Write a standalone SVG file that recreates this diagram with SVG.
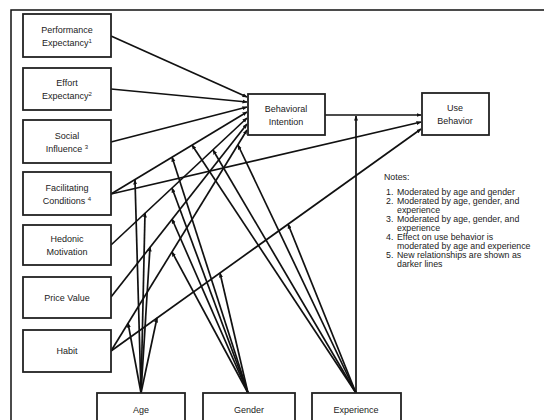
<svg xmlns="http://www.w3.org/2000/svg" width="544" height="420" viewBox="0 0 544 420">
<defs>
<marker id="ah" viewBox="0 0 10 10" refX="9" refY="5" markerWidth="5" markerHeight="5" orient="auto" markerUnits="userSpaceOnUse">
<path d="M0,1 L10,5 L0,9 z" fill="#111"/>
</marker>
<style>
.box{fill:#fff;stroke:#222;stroke-width:1.8}
.t{font-family:"Liberation Sans",Arial,sans-serif;font-size:9px;fill:#222;text-anchor:middle}
.n{font-family:"Liberation Sans",Arial,sans-serif;font-size:8.8px;fill:#222}
.c line{stroke:#111;stroke-width:1.7;marker-end:url(#ah)}
</style>
</defs>
<rect width="544" height="420" fill="#fff"/>
<rect x="11" y="10" width="560" height="440" fill="none" stroke="#111" stroke-width="1.5"/>

<g id="connectors" class="c">
<line x1="111" y1="36" x2="247" y2="97"/>
<line x1="111" y1="89" x2="247" y2="102"/>
<line x1="111" y1="142" x2="247" y2="107"/>
<line x1="111" y1="194" x2="247" y2="112"/>
<line x1="111" y1="245" x2="247" y2="118"/>
<line x1="111" y1="297" x2="247" y2="124"/>
<line x1="111" y1="351" x2="247" y2="130"/>
<line x1="325" y1="115" x2="421" y2="115"/>
<line x1="111" y1="194" x2="421" y2="122"/>
<line x1="111" y1="351" x2="421" y2="129"/>
<line x1="141" y1="393" x2="135" y2="180"/>
<line x1="141" y1="393" x2="145" y2="213"/>
<line x1="141" y1="393" x2="150" y2="247"/>
<line x1="141" y1="393" x2="128" y2="323"/>
<line x1="141" y1="393" x2="157" y2="318"/>
<line x1="248" y1="393" x2="172" y2="157"/>
<line x1="248" y1="393" x2="172" y2="188"/>
<line x1="248" y1="393" x2="172" y2="219"/>
<line x1="248" y1="393" x2="172" y2="252"/>
<line x1="248" y1="393" x2="220" y2="273"/>
<line x1="356" y1="393" x2="192" y2="145"/>
<line x1="356" y1="393" x2="213" y2="150"/>
<line x1="356" y1="393" x2="238" y2="145"/>
<line x1="356" y1="393" x2="288" y2="224"/>
<line x1="356" y1="393" x2="356" y2="116"/>
</g>

<g id="pe"><rect class="box" x="23" y="14" width="88" height="43"/><text class="t" x="67" y="33">Performance</text><text class="t" x="67" y="46">Expectancy<tspan font-size="6" dy="-3">1</tspan></text></g>
<g id="ee"><rect class="box" x="23" y="68" width="88" height="42"/><text class="t" x="67" y="86">Effort</text><text class="t" x="67" y="99">Expectancy<tspan font-size="6" dy="-3">2</tspan></text></g>
<g id="si"><rect class="box" x="23" y="120" width="88" height="43"/><text class="t" x="67" y="139">Social</text><text class="t" x="67" y="152">Influence <tspan font-size="6" dy="-3">3</tspan></text></g>
<g id="fc"><rect class="box" x="23" y="172" width="88" height="43"/><text class="t" x="67" y="191">Facilitating</text><text class="t" x="67" y="204">Conditions <tspan font-size="6" dy="-3">4</tspan></text></g>
<g id="hm"><rect class="box" x="23" y="225" width="88" height="40"/><text class="t" x="67" y="242">Hedonic</text><text class="t" x="67" y="255">Motivation</text></g>
<g id="pv"><rect class="box" x="23" y="277" width="88" height="41"/><text class="t" x="67" y="301">Price Value</text></g>
<g id="habit"><rect class="box" x="23" y="330" width="88" height="42"/><text class="t" x="67" y="354">Habit</text></g>
<g id="bi"><rect class="box" x="248" y="94" width="77" height="41"/><text class="t" x="286" y="112">Behavioral</text><text class="t" x="286" y="125">Intention</text></g>
<g id="ub"><rect class="box" x="422" y="93" width="67" height="42"/><text class="t" x="455" y="111">Use</text><text class="t" x="455" y="124">Behavior</text></g>
<g id="age"><rect class="box" x="97" y="393" width="88" height="40"/><text class="t" x="141" y="413">Age</text></g>
<g id="gender"><rect class="box" x="203" y="393" width="92" height="40"/><text class="t" x="249" y="413">Gender</text></g>
<g id="experience"><rect class="box" x="312" y="393" width="89" height="40"/><text class="t" x="356" y="413">Experience</text></g>

<g id="notes">
<text class="n" x="384" y="180" font-size="9.5">Notes:</text>
<text class="n" x="386" y="195">1.</text><text class="n" x="397" y="195">Moderated by age and gender</text>
<text class="n" x="386" y="204">2.</text><text class="n" x="397" y="204">Moderated by age, gender, and</text>
<text class="n" x="397" y="213">experience</text>
<text class="n" x="386" y="222">3.</text><text class="n" x="397" y="222">Moderated by age, gender, and</text>
<text class="n" x="397" y="231">experience</text>
<text class="n" x="386" y="240">4.</text><text class="n" x="397" y="240">Effect on use behavior is</text>
<text class="n" x="397" y="249">moderated by age and experience</text>
<text class="n" x="386" y="258">5.</text><text class="n" x="397" y="258">New relationships are shown as</text>
<text class="n" x="397" y="267">darker lines</text>
</g>
</svg>
